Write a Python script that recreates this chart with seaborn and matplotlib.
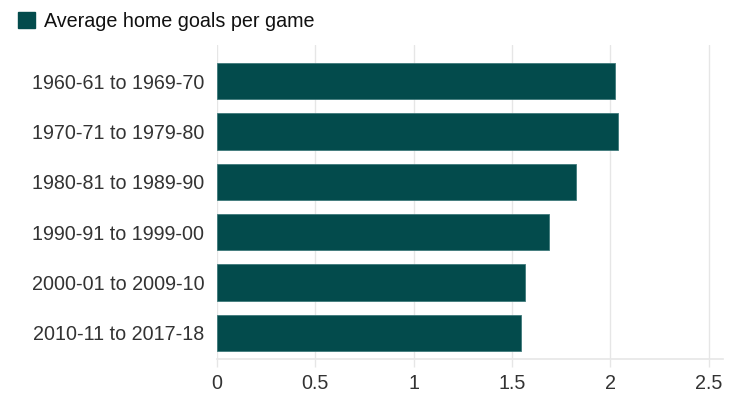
import matplotlib
matplotlib.use("Agg")
import matplotlib.pyplot as plt
import seaborn as sns
import pandas as pd
from matplotlib.patches import Patch

categories = ["1960-61 to 1969-70", "1970-71 to 1979-80", "1980-81 to 1989-90",
              "1990-91 to 1999-00", "2000-01 to 2009-10", "2010-11 to 2017-18"]
values = [2.025, 2.037, 1.827, 1.688, 1.566, 1.547]
x_ticks = [0, 0.5, 1, 1.5, 2, 2.5]
x_tick_labels = ["0", "0.5", "1", "1.5", "2", "2.5"]
series_name = "Average home goals per game"

sns.set_theme(style="white")
plt.rcParams['font.family'] = ['Liberation Sans', 'DejaVu Sans']

bar_color = "#034b4c"
text_color = "#333333"
grid_color = "#e6e6e6"

df = pd.DataFrame({"period": categories, "goals": values})

fig = plt.figure(figsize=(7.41, 4.08), dpi=100)
ax = fig.add_axes([217/741, 1 - 359/408, (723-217)/741, (359-45)/408])

sns.barplot(data=df, y="period", x="goals", orient="h", color=bar_color,
            width=0.72, edgecolor="#3f7a7b", linewidth=0.6, saturation=1, ax=ax)

ax.set_xlim(0, (723-217)/196.7)
ax.set_ylim(5 + 26/50.3, -36/50.3)
ax.set_xticks(x_ticks)
ax.set_xticklabels(x_tick_labels)
ax.set_xlabel("")
ax.set_ylabel("")
ax.set_axisbelow(True)
ax.grid(axis="x", color=grid_color, linewidth=1)
ax.grid(axis="y", visible=False)
for s in ["top", "right", "left"]:
    ax.spines[s].set_visible(False)
ax.spines["bottom"].set_color(grid_color)
ax.spines["bottom"].set_linewidth(1.2)
ax.tick_params(axis="x", length=6, color=grid_color, width=1, pad=5,
               labelsize=14.2, labelcolor=text_color, bottom=True)
ax.tick_params(axis="y", length=0, pad=9, labelsize=14.2, labelcolor=text_color)

handle = Patch(facecolor=bar_color, edgecolor=bar_color)
fig.legend(handles=[handle], labels=[series_name], loc="upper left",
           bbox_to_anchor=(14/741, 1 - 8/408), frameon=False, fontsize=14.2,
           handlelength=0.85, handleheight=0.85, handletextpad=0.45,
           borderaxespad=0, borderpad=0.2, labelcolor="#111111")

fig.savefig("out.png", dpi=100)
